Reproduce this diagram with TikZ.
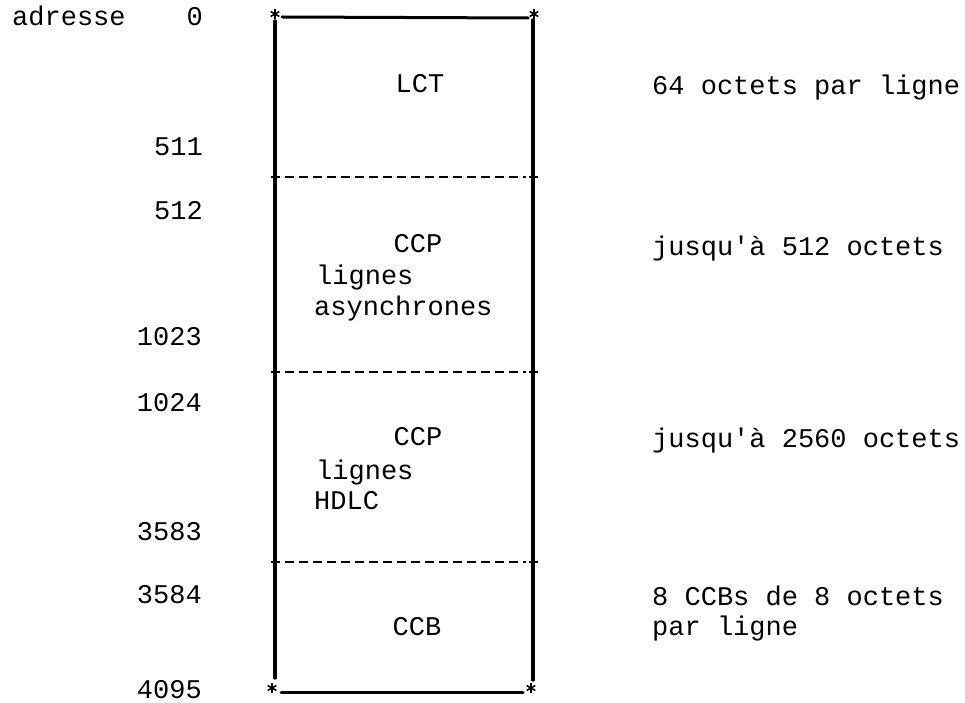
\documentclass[tikz,border=0pt]{standalone}
\usepackage{fontspec}
\setmonofont{Liberation Mono}
\begin{document}
\begin{tikzpicture}[x=1pt,y=-1pt,
  txt/.style={font=\ttfamily\fontsize{27}{31}\selectfont, inner sep=0pt, yshift=-5pt},
  numlbl/.style={txt, anchor=mid east},
  rlbl/.style={txt, anchor=mid west},
  inlbl/.style={txt, anchor=mid},
  inleft/.style={txt, anchor=mid west},
  side/.style={line width=3.4pt, line cap=round},
  edge/.style={line width=3pt, line cap=round},
  divider/.style={line width=1.7pt, dash pattern=on 9pt off 5pt},
  ast/.style={line width=1.6pt}]
\useasboundingbox (0,0) rectangle (965,703);
\fill[white] (0,0) rectangle (965,703);

% frame coordinates
\coordinate (TL) at (275,14);
\coordinate (TR) at (534,14);
\coordinate (BL) at (272,688);
\coordinate (BR) at (531,688);
\coordinate (Ltop) at (275,21);
\coordinate (Lbot) at (275,678);
\coordinate (Rtop) at (533,20);
\coordinate (Rbot) at (533,680);
\coordinate (Ttl) at (282,17);
\coordinate (Ttr) at (528,18);
\coordinate (Bbl) at (281,692);
\coordinate (Bbr) at (523,692);

% dividers
\coordinate (D1l) at (275,177); \coordinate (D1r) at (533,177);
\coordinate (D2l) at (275,372); \coordinate (D2r) at (533,372);
\coordinate (D3l) at (275,562); \coordinate (D3r) at (533,562);

\draw[side] (Ltop) -- (Lbot);
\draw[side] (Rtop) -- (Rbot);
\draw[edge] (Ttl) -- (Ttr);
\draw[edge] (Bbl) -- (Bbr);
\foreach \d in {D1,D2,D3}{
  \draw[divider] ([xshift=10pt]\d l) -- ([xshift=-7pt]\d r);
}

% asterisks
\foreach \c in {TL,TR,BL,BR}{
  \draw[ast] (\c) +(90:5) -- +(270:5);
  \draw[ast] (\c) +(30:5) -- +(210:5);
  \draw[ast] (\c) +(150:5) -- +(330:5);
}
\foreach \c in {D1l,D1r,D2l,D2r,D3l,D3r}{
  \draw[ast] (\c) +(90:4.5) -- +(270:4.5);
  \draw[ast] (\c) +(0:4.5) -- +(180:4.5);
}

% left labels
\node[txt, anchor=mid west] (adr) at (12,18) {adresse};
\node[numlbl] (a0) at (203,18) {0};
\node[numlbl] (a511) at (203,148) {511};
\node[numlbl] (a512) at (203,212) {512};
\node[numlbl] (a1023) at (202,338) {1023};
\node[numlbl] (a1024) at (202,404) {1024};
\node[numlbl] (a3583) at (202,533) {3583};
\node[numlbl] (a3584) at (202,596) {3584};
\node[numlbl] (a4095) at (202,691) {4095};

% inside labels
\node[inlbl] (lct) at (420,85) {LCT};
\node[inlbl] (ccp1) at (418,245) {CCP};
\node[inleft] (lig1) at (316,277) {lignes};
\node[inleft] (asy) at (314,308) {asynchrones};
\node[inlbl] (ccp2) at (418,438) {CCP};
\node[inleft] (lig2) at (316,472) {lignes};
\node[inleft] (hdlc) at (314,502) {HDLC};
\node[inlbl] (ccb) at (417,628) {CCB};

% right labels
\node[rlbl] (r1) at (652,87) {64 octets par ligne};
\node[rlbl] (r2) at (652,248) {jusqu'à 512 octets};
\node[rlbl] (r3) at (652,440) {jusqu'à 2560 octets};
\node[rlbl] (r4) at (652,598) {8 CCBs de 8 octets};
\node[rlbl] (r5) at (652,628) {par ligne};
\end{tikzpicture}
\end{document}
